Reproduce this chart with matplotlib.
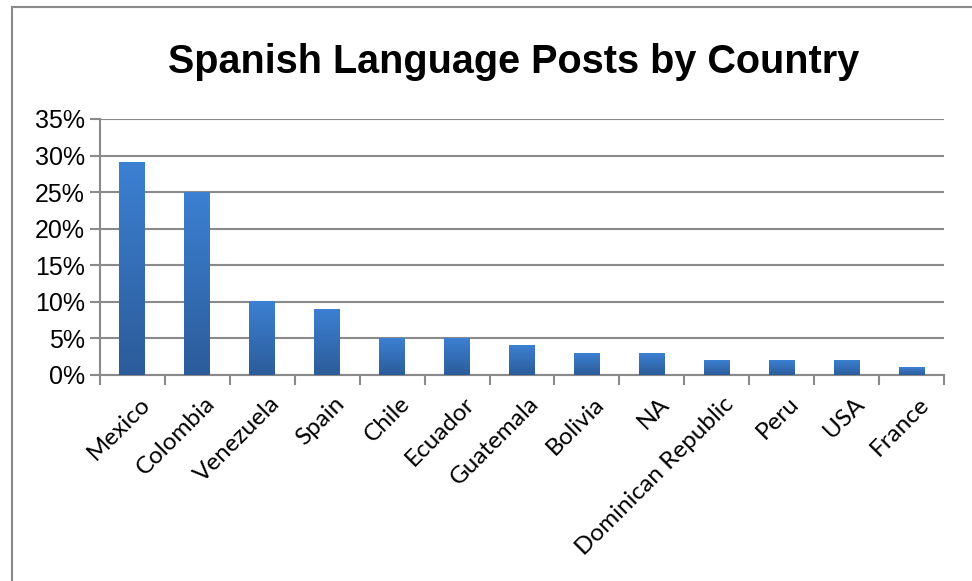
import numpy as np
import matplotlib.pyplot as plt
from matplotlib.patches import Rectangle
from matplotlib.colors import LinearSegmentedColormap

countries = ['Mexico', 'Colombia', 'Venezuela', 'Spain', 'Chile', 'Ecuador', 'Guatemala',
             'Bolivia', 'NA', 'Dominican Republic', 'Peru', 'USA', 'France']
share = [29, 25, 10, 9, 5, 5, 4, 3, 3, 2, 2, 2, 1]
yticks = [0, 5, 10, 15, 20, 25, 30, 35]

fig = plt.figure(figsize=(9.72, 5.81), dpi=100)
fig.patches.append(Rectangle((12/972, -0.1), 1.2, 1 - 7/581 + 0.1, transform=fig.transFigure,
                             fill=False, edgecolor='#8a8a8a', lw=1.5))
ax = fig.add_axes([100/972, 1 - 375/581, 844/972, 256/581])

x = np.arange(len(countries))
bars = ax.bar(x, share, width=0.4, color='#3570b8', zorder=3)
cmap = LinearSegmentedColormap.from_list('bl', ['#2c5c9a', '#3c80d2'])
grad = np.linspace(0, 1, 100).reshape(-1, 1)
for b in bars:
    x0, w, h = b.get_x(), b.get_width(), b.get_height()
    ax.imshow(grad, cmap=cmap, origin='lower', aspect='auto', extent=(x0, x0 + w, 0, h), zorder=4)
    b.set_visible(False)

ax.set_xlim(-0.5, len(countries) - 0.5)
ax.set_ylim(0, 35)
ax.set_yticks(yticks)
ax.set_yticklabels([f'{v}%' for v in yticks], fontfamily='Liberation Sans', fontsize=18)
ax.set_xticks(x + 0.1)
ax.set_xticklabels(countries, rotation=45, ha='right', rotation_mode='anchor',
                   fontfamily='Lato', fontsize=17.5)
ax.set_xticks(np.arange(-0.5, len(countries)), minor=True)
ax.tick_params(axis='x', which='major', length=0, pad=13)
ax.tick_params(axis='x', which='minor', length=7, width=1.5, color='#8a8a8a', direction='out')
ax.tick_params(axis='y', length=7, width=1.5, color='#8a8a8a', pad=4)
ax.grid(axis='y', color='#8a8a8a', lw=1.5, zorder=0)
for s in ['top', 'right']:
    ax.spines[s].set_visible(False)
ax.spines['left'].set_color('#8a8a8a')
ax.spines['bottom'].set_color('#8a8a8a')
ax.spines['left'].set_linewidth(1.5)
ax.spines['bottom'].set_linewidth(1.5)

fig.text(514/972, 1 - 62/581, 'Spanish Language Posts by Country', ha='center', va='center',
         fontfamily='Liberation Sans', fontweight='bold', fontsize=28.5)

fig.savefig('out.png', dpi=100)
